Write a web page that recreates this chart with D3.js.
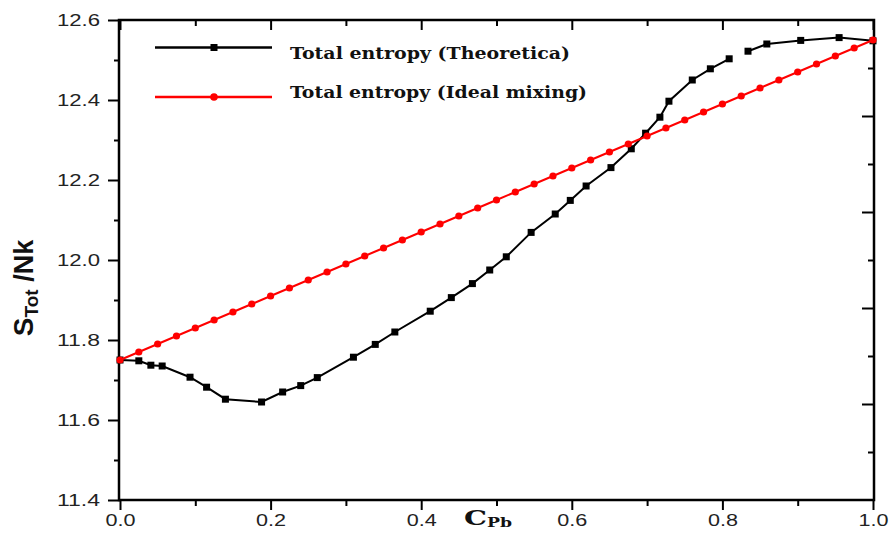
<!DOCTYPE html>
<html>
<head>
<meta charset="utf-8">
<script src="https://cdn.jsdelivr.net/npm/d3@7"></script>
<style>
  html, body { margin: 0; padding: 0; background: #ffffff; }
  svg { display: block; }
</style>
</head>
<body>
<svg id="chart" width="889" height="534"></svg>
<script>
// ---- data ----
const theoC = [0.0, 0.025, 0.041, 0.056, 0.093, 0.115, 0.140, 0.188, 0.216, 0.240, 0.262,
  0.310, 0.339, 0.365, 0.412, 0.440, 0.468, 0.491, 0.513, 0.546, 0.578, 0.598, 0.619,
  0.652, 0.679, 0.698, 0.717, 0.729, 0.760, 0.784, 0.809,
  0.834, 0.859, 0.904, 0.955, 1.0];
const theoS = [11.750, 11.748, 11.737, 11.735, 11.707, 11.682, 11.652, 11.645, 11.670, 11.686, 11.706,
  11.757, 11.789, 11.820, 11.872, 11.906, 11.941, 11.975, 12.008, 12.069, 12.115, 12.149, 12.185,
  12.231, 12.278, 12.317, 12.357, 12.397, 12.450, 12.478, 12.503,
  12.522, 12.540, 12.549, 12.556, 12.548];
const theoBreakAfter = 30; // line gap between point 30 and 31
const idealC = [0.000, 0.025, 0.050, 0.075, 0.100, 0.125, 0.150, 0.175, 0.200, 0.225,
  0.250, 0.275, 0.300, 0.325, 0.350, 0.375, 0.400, 0.425, 0.450, 0.475,
  0.500, 0.525, 0.550, 0.575, 0.600, 0.625, 0.650, 0.675, 0.700, 0.725,
  0.750, 0.775, 0.800, 0.825, 0.850, 0.875, 0.900, 0.925, 0.950, 0.975, 1.000];
const idealS = [11.75, 11.77, 11.79, 11.81, 11.83, 11.85, 11.87, 11.89, 11.91, 11.93,
  11.95, 11.97, 11.99, 12.01, 12.03, 12.05, 12.07, 12.09, 12.11, 12.13,
  12.15, 12.17, 12.19, 12.21, 12.23, 12.25, 12.27, 12.29, 12.31, 12.33,
  12.35, 12.37, 12.39, 12.41, 12.43, 12.45, 12.47, 12.49, 12.51, 12.53, 12.55];
const xMajor = [0.0, 0.2, 0.4, 0.6, 0.8, 1.0];
const xMinor = [0.1, 0.3, 0.5, 0.7, 0.9];
const yMajor = [11.4, 11.6, 11.8, 12.0, 12.2, 12.4, 12.6];
const yMinor = [11.5, 11.7, 11.9, 12.1, 12.3, 12.5];
const rightMajor = [2, 4, 6, 8];
const rightMinor = [1, 3, 5, 7, 9];
const legendLabels = ["Total entropy (Theoretica)", "Total entropy (Ideal mixing)"];

// ---- layout ----
const L = 120, R = 873, T = 20, B = 500;
const svg = d3.select("#chart");
const x = d3.scaleLinear().domain([0, 1]).range([L, R]);
const y = d3.scaleLinear().domain([11.4, 12.6]).range([B, T]);
const yR = d3.scaleLinear().domain([0, 10]).range([B, T]);

const tickFont = "'Liberation Sans', Arial, sans-serif";

function styleAxis(g) {
  g.select(".domain").remove();
  g.selectAll("line").attr("stroke", "#000").attr("stroke-width", 2);
}

// left axis
const gL = svg.append("g").attr("transform", `translate(${L},0)`);
gL.call(d3.axisLeft(y).tickValues(yMajor).tickSize(12).tickPadding(8).tickFormat(d3.format(".1f")));
styleAxis(gL);
gL.selectAll("text").attr("font-family", tickFont).attr("font-size", 16).attr("fill", "#222")
  .attr("textLength", 43).attr("lengthAdjust", "spacingAndGlyphs").attr("x", -20).attr("dy", "0.35em");
const gL2 = svg.append("g").attr("transform", `translate(${L},0)`);
gL2.call(d3.axisLeft(y).tickValues(yMinor).tickSize(6).tickFormat(""));
styleAxis(gL2);

// bottom axis
const gB = svg.append("g").attr("transform", `translate(0,${B})`);
gB.call(d3.axisBottom(x).tickValues(xMajor).tickSize(10).tickFormat(d3.format(".1f")));
styleAxis(gB);
gB.selectAll("text").attr("font-family", tickFont).attr("font-size", 16).attr("fill", "#222")
  .attr("textLength", 30).attr("lengthAdjust", "spacingAndGlyphs").attr("y", 26).attr("dy", 0);
const gB2 = svg.append("g").attr("transform", `translate(0,${B})`);
gB2.call(d3.axisBottom(x).tickValues(xMinor).tickSize(6).tickFormat(""));
styleAxis(gB2);

// top axis (inward ticks)
const gT = svg.append("g").attr("transform", `translate(0,${T})`);
gT.call(d3.axisBottom(x).tickValues(xMajor).tickSize(10).tickFormat(""));
styleAxis(gT);
const gT2 = svg.append("g").attr("transform", `translate(0,${T})`);
gT2.call(d3.axisBottom(x).tickValues(xMinor).tickSize(6).tickFormat(""));
styleAxis(gT2);

// right axis (inward ticks)
const gR = svg.append("g").attr("transform", `translate(${R + 1},0)`);
gR.call(d3.axisLeft(yR).tickValues(rightMajor).tickSize(12).tickFormat(""));
styleAxis(gR);
const gR2 = svg.append("g").attr("transform", `translate(${R + 1},0)`);
gR2.call(d3.axisLeft(yR).tickValues(rightMinor).tickSize(6).tickFormat(""));
styleAxis(gR2);

// frame
svg.append("rect").attr("x", L - 1).attr("y", T).attr("width", R - L + 2).attr("height", B - T)
  .attr("fill", "none").attr("stroke", "#000").attr("stroke-width", 2.5);

// ---- series ----
const theo = theoC.map((c, i) => ({ c, s: theoS[i], i }));
const ideal = idealC.map((c, i) => ({ c, s: idealS[i] }));
const line = d3.line().x(d => x(d.c)).y(d => y(d.s));

svg.append("path").datum(theo.slice(0, theoBreakAfter + 1)).attr("d", line)
  .attr("fill", "none").attr("stroke", "#000").attr("stroke-width", 2);
svg.append("path").datum(theo.slice(theoBreakAfter + 1)).attr("d", line)
  .attr("fill", "none").attr("stroke", "#000").attr("stroke-width", 2);
svg.append("g").selectAll("rect").data(theo).join("rect")
  .attr("x", d => x(d.c) - 3.5).attr("y", d => y(d.s) - 3.5)
  .attr("width", 7).attr("height", 7).attr("fill", "#000");

svg.append("path").datum(ideal).attr("d", line)
  .attr("fill", "none").attr("stroke", "#ff0000").attr("stroke-width", 2);
svg.append("g").selectAll("circle").data(ideal).join("circle")
  .attr("cx", d => x(d.c)).attr("cy", d => y(d.s)).attr("r", 3.6).attr("fill", "#ff0000");

// ---- legend ----
const legendFont = "'DejaVu Serif', 'Liberation Serif', serif";
const legendRows = [
  { label: legendLabels[0], color: "#000", shape: "square", ly: 47.5, ty: 59, w: 280 },
  { label: legendLabels[1], color: "#ff0000", shape: "circle", ly: 97, ty: 97.5, w: 297 }
];
const lg = svg.append("g");
legendRows.forEach(r => {
  lg.append("line").attr("x1", 155).attr("x2", 272).attr("y1", r.ly).attr("y2", r.ly)
    .attr("stroke", r.color).attr("stroke-width", 2.5);
  if (r.shape === "square") {
    lg.append("rect").attr("x", 214 - 3.5).attr("y", r.ly - 3.5).attr("width", 7).attr("height", 7).attr("fill", r.color);
  } else {
    lg.append("circle").attr("cx", 214).attr("cy", r.ly).attr("r", 3.8).attr("fill", r.color);
  }
  lg.append("text").attr("x", 290).attr("y", r.ty).text(r.label)
    .attr("font-family", legendFont).attr("font-weight", "bold").attr("font-size", 16)
    .attr("fill", "#111").attr("textLength", r.w).attr("lengthAdjust", "spacingAndGlyphs");
});

// ---- axis titles ----
const yt = svg.append("text").attr("transform", "translate(33,288) rotate(-90)")
  .attr("text-anchor", "middle").attr("font-family", "'Liberation Sans', Arial, sans-serif")
  .attr("font-weight", "bold").attr("fill", "#111");
yt.append("tspan").attr("font-size", 28).text("S");
yt.append("tspan").attr("font-size", 19).attr("dy", 5).text("Tot");
yt.append("tspan").attr("font-size", 27).attr("dy", -5).text(" /Nk");

const xt = svg.append("text").attr("x", 464).attr("y", 525)
  .attr("font-family", "'DejaVu Serif', 'Liberation Serif', serif").attr("font-weight", "bold").attr("fill", "#111");
xt.append("tspan").attr("font-size", 20).attr("textLength", 23).attr("lengthAdjust", "spacingAndGlyphs").text("C");
xt.append("tspan").attr("font-size", 13).attr("dy", 2).attr("textLength", 25).attr("lengthAdjust", "spacingAndGlyphs").text("Pb");
</script>
</body>
</html>
